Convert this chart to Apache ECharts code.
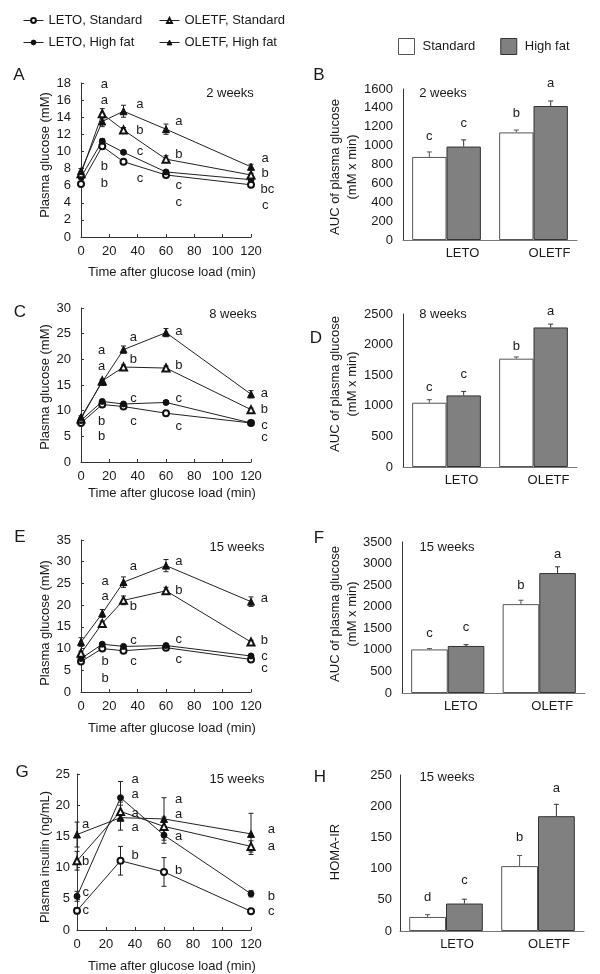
<!DOCTYPE html>
<html><head><meta charset="utf-8">
<script src="https://cdn.jsdelivr.net/npm/echarts@6/dist/echarts.min.js"></script>
<style>html,body{margin:0;padding:0;background:#fff}#c{width:600px;height:974px}</style>
</head><body><div id="c"></div>
<script>
// ---------------- DATA ----------------
const timesGlucose = [0, 15, 30, 60, 120];
const timesInsulin = [0, 30, 60, 120];
const groupNames = ['LETO', 'OLETF'];
const lineNames = ['LETO, Standard', 'LETO, High fat', 'OLETF, Standard', 'OLETF, High fat'];
const barNames = ['Standard', 'High fat'];

// Panel A: plasma glucose, 2 weeks (mM)
const gluA_letoStd  = [6.2, 10.6, 8.8, 7.25, 6.1];
const gluA_letoHF   = [7.0, 11.2, 9.9, 7.6, 6.7];
const gluA_oletfStd = [7.4, 14.4, 12.5, 9.1, 7.25];
const gluA_oletfHF  = [7.7, 13.5, 14.7, 12.6, 8.2];
const errA_letoStd  = [0.2, 0.3, 0.2, 0.2, 0.2];
const errA_letoHF   = [0.2, 0.3, 0.2, 0.2, 0.2];
const errA_oletfStd = [0.3, 0.6, 0.3, 0.4, 0.2];
const errA_oletfHF  = [0.3, 0.6, 0.7, 0.6, 0.3];
const lettersA = [[16.5,17.8,'a'],[16.5,16,'a'],[16.5,8.2,'b'],[16.5,6.3,'b'],
  [41.6,15.5,'a'],[41.6,12.4,'b'],[41.6,10,'c'],[41.6,6.9,'c'],
  [69,13.5,'a'],[69,9.7,'b'],[69,6,'c'],[69,4,'c'],
  [130,9.2,'a'],[130,7.45,'b'],[131.5,5.6,'bc'],[130,3.7,'c']];

// Panel B: AUC glucose, 2 weeks
const aucB_std = [880, 1140];
const aucB_hf  = [990, 1420];
const errB_std = [53, 25];
const errB_hf  = [71, 53];
const lettersB = [[0,0,1102,'c'],[0,1,1236,'c'],[1,0,1342,'b'],[1,1,1660,'a']];

// Panel C: plasma glucose, 8 weeks
const gluC_letoStd  = [7.6, 11.2, 10.8, 9.5, 7.6];
const gluC_letoHF   = [8.1, 11.8, 11.3, 11.6, 7.6];
const gluC_oletfStd = [8.4, 15.8, 18.5, 18.3, 10.2];
const gluC_oletfHF  = [8.7, 15.6, 21.9, 25.2, 13.2];
const errC_letoStd  = [0.2, 0.3, 0.2, 0.2, 0.2];
const errC_letoHF   = [0.3, 0.3, 0.3, 0.3, 0.2];
const errC_oletfStd = [0.3, 0.3, 0.4, 0.4, 0.3];
const errC_oletfHF  = [0.3, 0.4, 0.7, 0.8, 0.7];
const lettersC = [[14.6,21.8,'a'],[14.6,18.6,'a'],[14.6,7.9,'b'],[14.6,5,'b'],
  [37,24.2,'a'],[37,19.9,'b'],[37,12.3,'c'],[37,7.9,'c'],
  [69,25.5,'a'],[69,18.9,'b'],[69,12.4,'c'],[69,6.9,'c'],
  [129.5,13.4,'a'],[129.5,10.2,'b'],[129.5,7.1,'c'],[129.5,4.8,'c']];

// Panel D: AUC glucose, 8 weeks
const aucD_std = [1050, 1770];
const aucD_hf  = [1170, 2280];
const errD_std = [50, 28];
const errD_hf  = [65, 55];
const lettersD = [[0,0,1302,'c'],[0,1,1515,'c'],[1,0,1977,'b'],[1,1,2538,'a']];

// Panel E: plasma glucose, 15 weeks
const gluE_letoStd  = [7.0, 10.0, 9.5, 10.2, 7.5];
const gluE_letoHF   = [7.7, 11.0, 10.5, 10.7, 8.3];
const gluE_oletfStd = [8.9, 15.8, 21.1, 23.3, 11.5];
const gluE_oletfHF  = [11.5, 18.1, 25.3, 29.1, 20.8];
const errE_letoStd  = [0.3, 0.3, 0.3, 0.3, 0.3];
const errE_letoHF   = [0.3, 0.3, 0.3, 0.3, 0.3];
const errE_oletfStd = [0.5, 0.5, 1.0, 0.8, 0.4];
const errE_oletfHF  = [1.0, 0.9, 1.2, 1.4, 1.1];
const lettersE = [[17,25.5,'a'],[17,22.0,'a'],[17,7.1,'b'],[17,3.2,'b'],
  [37,28.9,'a'],[37,19.6,'b'],[37,11.9,'c'],[37,7.0,'c'],
  [69,30.0,'a'],[69,23.5,'b'],[69,12.1,'c'],[69,7.5,'c'],
  [129.5,21.6,'a'],[129.5,11.9,'b'],[129.5,8.1,'c'],[129.5,5.5,'c']];

// Panel F: AUC glucose, 15 weeks
const aucF_std = [1010, 2060];
const aucF_hf  = [1090, 2780];
const errF_std = [20, 90];
const errF_hf  = [30, 145];
const lettersF = [[0,0,1370,'c'],[0,1,1518,'c'],[1,0,2482,'b'],[1,1,3222,'a']];

// Panel G: plasma insulin, 15 weeks (ng/mL)
const insG_letoStd  = [3.1, 11.1, 9.3, 3.0];
const insG_letoHF   = [5.4, 21.2, 15.2, 5.8];
const insG_oletfStd = [11.1, 19.0, 16.6, 13.4];
const insG_oletfHF  = [15.3, 18.0, 17.8, 15.4];
const errG_letoStd  = [0.5, 2.3, 2.3, 0.2];
const errG_letoHF   = [0.8, 2.6, 1.3, 0.5];
const errG_oletfStd = [1.5, 1.5, 1.5, 0.9];
const errG_oletfHF  = [2.0, 2.0, 3.4, 3.3];
const lettersG = [[6,16.9,'a'],[6,11.0,'b'],[6,6.0,'c'],[6,3.1,'c'],
  [40,24.2,'a'],[40,21.8,'a'],[40,18.7,'a'],[40,16.5,'a'],[40,11.9,'b'],
  [70,21.0,'a'],[70,18.5,'a'],[70,15.0,'a'],[70,9.6,'b'],
  [134,16.1,'a'],[134,13.4,'a'],[134,5.4,'b'],[134,2.9,'c']];

// Panel H: HOMA-IR, 15 weeks
const homaH_std = [22.5, 104];
const homaH_hf  = [44, 184];
const errH_std  = [3.7, 17];
const errH_hf   = [7, 19];
const lettersH = [[0,0,54.6,'d'],[0,1,80.3,'c'],[1,0,150,'b'],[1,1,228.6,'a']];

// ---------------- STYLE / LAYOUT ----------------
const FONT = "'Liberation Sans', Arial, Helvetica, sans-serif";
const INK = '#1a1a1a';
const grids = [
  {left:81,  top:83,  width:170, height:154}, // A
  {left:403, top:89,  width:174, height:151}, // B
  {left:81,  top:308, width:170, height:154}, // C
  {left:403, top:314, width:174, height:153}, // D
  {left:81,  top:540, width:170, height:152}, // E
  {left:402, top:542, width:183, height:151}, // F
  {left:77,  top:774, width:174, height:156}, // G
  {left:400, top:775, width:184, height:156}  // H
];
const yMax = [18, 1600, 30, 2500, 35, 3500, 25, 250];
const yInt = [2, 200, 5, 500, 5, 500, 5, 50];
const isBar = [false, true, false, true, false, true, false, true];
const barGapPct = [0, 0.21, 0, 0.21, 0, 0.20, 0, 0.20];
const catShift = [0, 32, 0, 30, 0, 26, 0, 22];
const yLabelMargin = [10, 10, 10, 10, 10, 10, 7, 8];
const plain = v => String(v);

const xAxes = grids.map((g, i) => isBar[i] ? {
  type:'category', gridIndex:i, data:groupNames,
  axisLine:{lineStyle:{color:'#777', width:1}}, axisTick:{show:false},
  axisLabel:{fontFamily:FONT, fontSize:13, color:INK, margin:7, padding:[0,0,0,catShift[i]]}
} : {
  type:'value', gridIndex:i, min:0, max:120, interval:20,
  axisLine:{lineStyle:{color:'#333', width:1}},
  axisTick:{inside:true, length:3, lineStyle:{color:'#333'}},
  axisLabel:{fontFamily:FONT, fontSize:13, color:INK, margin:8, formatter:plain},
  splitLine:{show:false}
});
const yAxes = grids.map((g, i) => ({
  type:'value', gridIndex:i, min:0, max:yMax[i], interval:yInt[i],
  axisLine:{show:true, lineStyle:{color:'#333', width:1}},
  axisTick:{show:!isBar[i], inside:true, length:3, lineStyle:{color:'#333'}},
  axisLabel:{fontFamily:FONT, fontSize:13, color:INK, margin:yLabelMargin[i], formatter:plain},
  splitLine:{show:false}
}));

const symbols = ['emptyCircle', 'circle', 'emptyTriangle', 'triangle'];
const symSize = [6, 6, 7, 7];
const series = [];

function lineErr(gi, times, vals, errs) {
  const data = times.map((t, k) => [t, vals[k], errs[k]]);
  series.push({
    type:'custom', name:'err', xAxisIndex:gi, yAxisIndex:gi, z:1, silent:true,
    data, encode:{x:0, y:1},
    renderItem(params, api) {
      const x = api.value(0), v = api.value(1), e = api.value(2);
      const lo = api.coord([x, v - e]), hi = api.coord([x, v + e]);
      const cw = 2.5, st = {stroke:'#222', lineWidth:1};
      return {type:'group', children:[
        {type:'line', shape:{x1:lo[0], y1:lo[1], x2:hi[0], y2:hi[1]}, style:st},
        {type:'line', shape:{x1:hi[0]-cw, y1:hi[1], x2:hi[0]+cw, y2:hi[1]}, style:st},
        {type:'line', shape:{x1:lo[0]-cw, y1:lo[1], x2:lo[0]+cw, y2:lo[1]}, style:st}
      ]};
    }
  });
}
function letterSeries(gi, letters) {
  series.push({
    type:'custom', name:'letters', xAxisIndex:gi, yAxisIndex:gi, z:5, silent:true,
    data: letters.map(l => [l[0], l[1]]), encode:{x:0, y:1},
    renderItem(params, api) {
      const p = api.coord([api.value(0), api.value(1)]);
      return {type:'text', x:p[0], y:p[1], style:{text:letters[params.dataIndex][2], font:'13px ' + FONT,
        fill:INK, align:'center', verticalAlign:'middle'}};
    }
  });
}
function linePanel(gi, times, valsList, errList, letters) {
  valsList.forEach((vals, k) => {
    series.push({
      type:'line', name:lineNames[k], xAxisIndex:gi, yAxisIndex:gi, z:3,
      data: times.map((t, j) => [t, vals[j]]),
      symbol:symbols[k], symbolSize:symSize[k], showAllSymbol:true,
      lineStyle:{color:'#222', width:1}, itemStyle:{color:'#111', borderColor:'#111', borderWidth:1},
      emphasis:{disabled:true}
    });
    lineErr(gi, times, vals, errList[k]);
  });
  letterSeries(gi, letters);
}
function barPanel(gi, stdVals, hfVals, stdErr, hfErr, letters) {
  const gap = barGapPct[gi];
  series.push({type:'bar', name:barNames[0], xAxisIndex:gi, yAxisIndex:gi, data:stdVals, z:2,
    barGap:'0%', barCategoryGap:(gap*100)+'%',
    itemStyle:{color:'#ffffff', borderColor:'#555', borderWidth:1}, emphasis:{disabled:true}});
  series.push({type:'bar', name:barNames[1], xAxisIndex:gi, yAxisIndex:gi, data:hfVals, z:2,
    barGap:'0%', barCategoryGap:(gap*100)+'%',
    itemStyle:{color:'#808080', borderColor:'#333', borderWidth:1}, emphasis:{disabled:true}});
  const errData = [];
  [stdVals, hfVals].forEach((vals, b) => vals.forEach((v, c) => errData.push([c, b, v, (b ? hfErr : stdErr)[c]])));
  series.push({
    type:'custom', name:'barerr', xAxisIndex:gi, yAxisIndex:gi, z:1, silent:true,
    data: errData, encode:{x:0, y:2},
    renderItem(params, api) {
      const c = api.value(0), b = api.value(1), v = api.value(2), e = api.value(3);
      const band = api.size([1, 0])[0];
      const bw = band * (1 - gap) / 2;
      const base = api.coord([c, v]);
      const x = base[0] + (b === 0 ? -bw/2 : bw/2);
      const top = api.coord([c, v + e])[1];
      const st = {stroke: b === 0 ? '#555' : '#333', lineWidth:1};
      return {type:'group', children:[
        {type:'line', shape:{x1:x, y1:base[1], x2:x, y2:top}, style:st},
        {type:'line', shape:{x1:x-2.5, y1:top, x2:x+2.5, y2:top}, style:st}
      ]};
    }
  });
  series.push({
    type:'custom', name:'barletters', xAxisIndex:gi, yAxisIndex:gi, z:5, silent:true,
    data: letters.map(l => [l[0], l[1], l[2]]), encode:{x:0, y:2},
    renderItem(params, api) {
      const c = api.value(0), b = api.value(1), v = api.value(2);
      const band = api.size([1, 0])[0];
      const bw = band * (1 - gap) / 2;
      const p = api.coord([c, v]);
      return {type:'text', x:p[0] + (b === 0 ? -bw/2 : bw/2), y:p[1],
        style:{text:letters[params.dataIndex][3], font:'13px ' + FONT, fill:INK, align:'center', verticalAlign:'middle'}};
    }
  });
}

linePanel(0, timesGlucose, [gluA_letoStd, gluA_letoHF, gluA_oletfStd, gluA_oletfHF],
  [errA_letoStd, errA_letoHF, errA_oletfStd, errA_oletfHF], lettersA);
barPanel(1, aucB_std, aucB_hf, errB_std, errB_hf, lettersB);
linePanel(2, timesGlucose, [gluC_letoStd, gluC_letoHF, gluC_oletfStd, gluC_oletfHF],
  [errC_letoStd, errC_letoHF, errC_oletfStd, errC_oletfHF], lettersC);
barPanel(3, aucD_std, aucD_hf, errD_std, errD_hf, lettersD);
linePanel(4, timesGlucose, [gluE_letoStd, gluE_letoHF, gluE_oletfStd, gluE_oletfHF],
  [errE_letoStd, errE_letoHF, errE_oletfStd, errE_oletfHF], lettersE);
barPanel(5, aucF_std, aucF_hf, errF_std, errF_hf, lettersF);
linePanel(6, timesInsulin, [insG_letoStd, insG_letoHF, insG_oletfStd, insG_oletfHF],
  [errG_letoStd, errG_letoHF, errG_oletfStd, errG_oletfHF], lettersG);
barPanel(7, homaH_std, homaH_hf, errH_std, errH_hf, lettersH);

// ---------------- TEXT ----------------
function txt(x, y, text, size, rot) {
  return {type:'text', x, y, rotation: rot ? Math.PI/2 : 0, silent:true,
    style:{text, font: size + 'px ' + FONT, fill:INK, align:'center', verticalAlign:'middle', lineHeight:17}};
}
const xTitle = 'Time after glucose load (min)';
const glucTitle = 'Plasma glucose (mM)';
const aucTitle = 'AUC of plasma glucose\n(mM x min)';
const graphic = [
  txt(19, 75, 'A', 17), txt(319, 75, 'B', 17), txt(20, 312, 'C', 17), txt(316, 338, 'D', 17),
  txt(20, 537, 'E', 17), txt(319, 538, 'F', 17), txt(22, 772, 'G', 17), txt(320, 777, 'H', 17),
  txt(230, 93, '2 weeks', 13), txt(443, 93, '2 weeks', 13),
  txt(233, 314, '8 weeks', 13), txt(443, 314, '8 weeks', 13),
  txt(237, 547, '15 weeks', 13), txt(447, 547, '15 weeks', 13),
  txt(237, 779, '15 weeks', 13), txt(447, 777, '15 weeks', 13),
  txt(172, 272, xTitle, 13), txt(172, 493, xTitle, 13), txt(172, 728, xTitle, 13), txt(172, 966, xTitle, 13),
  txt(45, 155, glucTitle, 13, true), txt(45, 387, glucTitle, 13, true), txt(45, 623, glucTitle, 13, true),
  txt(45, 857, 'Plasma insulin (ng/mL)', 13, true),
  txt(344, 167, aucTitle, 13, true), txt(344, 384, aucTitle, 13, true), txt(344, 614, aucTitle, 13, true),
  txt(335, 852, 'HOMA-IR', 13, true)
];

const legendText = {fontFamily:FONT, fontSize:13, color:INK};
const lineLegendBase = {orient:'vertical', top:9, itemGap:9, itemWidth:20, itemHeight:6, selectedMode:false,
  lineStyle:{width:1, color:'#222'}, itemStyle:{borderWidth:1}, textStyle:legendText};
const option = {
  animation:false,
  backgroundColor:'#fff',
  textStyle:{fontFamily:FONT},
  grid: grids.map(g => Object.assign({containLabel:false}, g)),
  xAxis: xAxes, yAxis: yAxes,
  legend:[
    Object.assign({left:18, data:[lineNames[0], lineNames[1]]}, lineLegendBase),
    Object.assign({left:154, data:[lineNames[2], lineNames[3]]}, lineLegendBase),
    {orient:'horizontal', left:393, top:33, itemGap:25, itemWidth:16, itemHeight:16, selectedMode:false,
      data:[
        {name:barNames[0], icon:'rect', itemStyle:{color:'#fff', borderColor:'#555', borderWidth:1}},
        {name:barNames[1], icon:'rect', itemStyle:{color:'#808080', borderColor:'#333', borderWidth:1}}
      ],
      textStyle:Object.assign({padding:[0,0,0,3]}, legendText)}
  ],
  graphic: graphic,
  series: series
};
const chart = echarts.init(document.getElementById('c'));
chart.setOption(option);
</script>
</body></html>
